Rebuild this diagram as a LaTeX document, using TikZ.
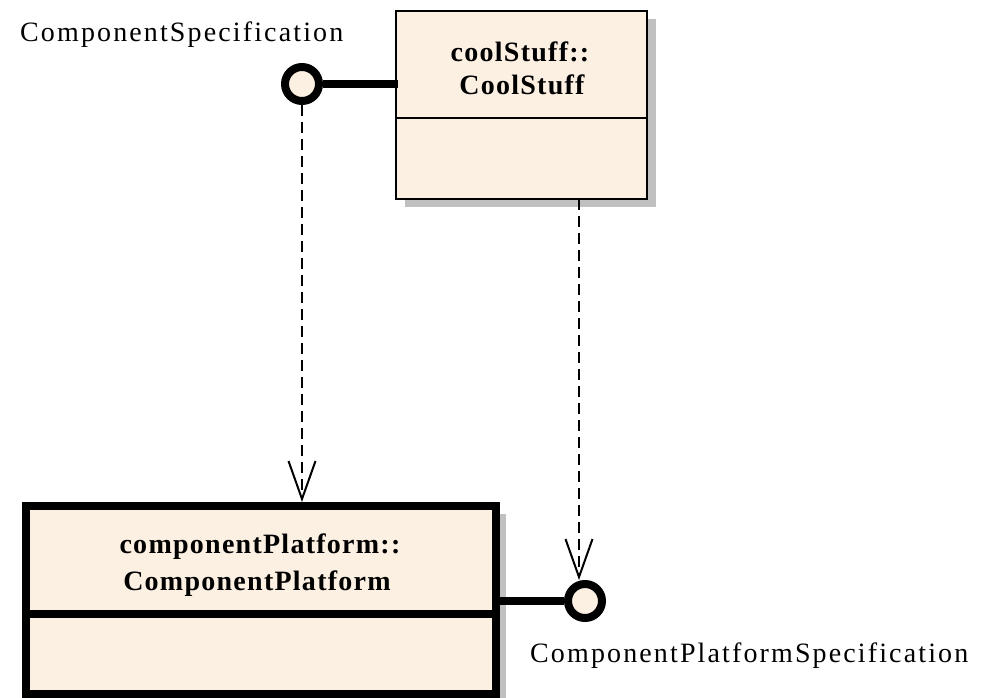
\documentclass[tikz,border=0pt]{standalone}
\usepackage{fontspec}
\setmainfont{Liberation Serif}
\newfontfamily\lblfont[LetterSpace=7.6]{Liberation Serif}
\newfontfamily\clsfont[LetterSpace=4.5]{Liberation Serif}
\usetikzlibrary{shadows,arrows.meta}
\definecolor{umlfill}{RGB}{251,240,226}
\definecolor{umlshadow}{RGB}{192,192,192}
\tikzset{
  classbox/.style={rectangle, draw=black, fill=umlfill, inner sep=0pt, outer sep=0pt,
    minimum height=188pt},
  iface/.style={circle, draw=black, fill=umlfill, line width=8pt, inner sep=0pt,
    minimum size=34pt},
  socket/.style={line width=8pt},
  dep/.style={line width=2.5pt, dash pattern=on 11pt off 6pt,
    -{Straight Barb[length=38pt, width=27pt, line width=2pt]}},
  compart/.style={line width=2.5pt},
  clsname/.style={anchor=base, inner sep=0pt, font=\clsfont\fontsize{28}{34}\selectfont\bfseries},
  lbl/.style={anchor=base west, inner sep=0pt, font=\lblfont\fontsize{28}{34}\selectfont}
}
\begin{document}
\begin{tikzpicture}[x=1pt,y=-1pt]
  \fill[white] (0,0) rectangle (986,698);
  \clip (0,0) rectangle (986,698);

  % coolStuff::CoolStuff
  \node[classbox, line width=2.5pt, minimum width=251pt,
        drop shadow={shadow xshift=9pt, shadow yshift=-8pt, fill=umlshadow, opacity=1}]
        (cool) at (521.5,105) {};
  \draw[compart] ([yshift=-107pt]cool.north west) -- ([yshift=-107pt]cool.north east);
  \node[clsname] (coolpkg) at (520,62) {coolStuff::};
  \node[clsname] (coolcls) at (522,95) {CoolStuff};

  % componentPlatform::ComponentPlatform
  \node[classbox, line width=8pt, minimum width=469.5pt,
        drop shadow={shadow xshift=10pt, shadow yshift=-8pt, fill=umlshadow, opacity=1}]
        (plat) at (260.75,600) {};
  \draw[line width=8pt] ([yshift=-108pt]plat.north west) -- ([yshift=-108pt]plat.north east);
  \node[clsname] (platpkg) at (260,553) {componentPlatform::};
  \node[clsname] (platcls) at (257,590) {ComponentPlatform};

  % provided interfaces
  \node[iface] (cs) at (302,84) {};
  \node[iface] (cps) at (585,601) {};
  \draw[socket] (cs.east) -- ([xshift=2pt]cs.east -| cool.west);
  \draw[socket] (plat.east |- cps.west) -- (cps.west);

  \node[lbl] (cslbl) at (20,42) {ComponentSpecification};
  \node[lbl] (cpslbl) at (530,662) {ComponentPlatformSpecification};

  % usage dependencies
  \coordinate (usetop) at (579,199);
  \draw[dep] (cs.south) -- ([yshift=4pt]cs.south |- plat.north);
  \draw[dep] (usetop) -- (usetop |- cps.north);
\end{tikzpicture}
\end{document}
